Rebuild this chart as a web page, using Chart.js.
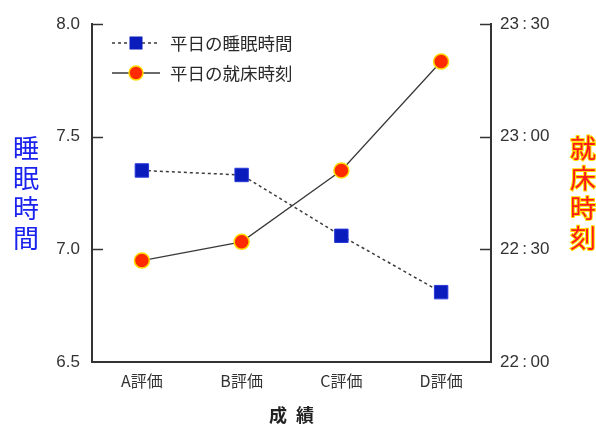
<!DOCTYPE html>
<html>
<head>
<meta charset="utf-8">
<script src="https://cdn.jsdelivr.net/npm/chart.js@4.4.1/dist/chart.umd.min.js"></script>
<style>
  html, body { margin: 0; padding: 0; background: #fff; }
  #wrap { width: 596px; height: 428px; }
</style>
</head>
<body>
<div id="wrap"><canvas id="chart" width="596" height="428"></canvas></div>
<script>
// grades on the x axis
const categories = ['A評価', 'B評価', 'C評価', 'D評価'];
// weekday sleep time (hours), left axis
const sleepHours = [7.35, 7.33, 7.06, 6.81];
// weekday bedtime, right axis
const bedtimes = ['22:27', '22:32', '22:51', '23:20'];

const sleepRange = [6.5, 8.0];
const timeRange = ['22:00', '23:30'];

const leftTitle = '睡眠時間';
const rightTitle = '就床時刻';
const xTitle = '成\u2002績';
const legendLabels = ['平日の睡眠時間', '平日の就床時刻'];

const JP = '"Noto Sans CJK JP", sans-serif';
const NUM = '"Liberation Sans", Arial, sans-serif';

const BLUE = '#0a1cbc';
const RED = '#ff2a00';
const YELLOW = '#ffdc00';
const LINE = '#3a3a3a';

function toMinutes(s) {
    const [h, m] = s.split(':').map(Number);
    return h * 60 + m;
}
function fmtTime(v) {
    const h = Math.floor(v / 60), m = v % 60;
    return h + '\u2009:\u2009' + String(m).padStart(2, '0');
}

// ticks drawn inward + vertical axis titles + legend inside the plot
const decorations = {
    id: 'decorations',
    afterDraw(chart) {
        const ctx = chart.ctx;
        const area = chart.chartArea;
        const yL = chart.scales.y, yR = chart.scales.y1;
        ctx.save();
        ctx.strokeStyle = '#333';
        ctx.lineWidth = 1.5;
        yL.ticks.forEach(t => {
            if (t.value === sleepRange[0]) return;
            const py = Math.round(yL.getPixelForValue(t.value)) + 0.5;
            ctx.beginPath(); ctx.moveTo(area.left, py); ctx.lineTo(area.left + 11, py); ctx.stroke();
        });
        yR.ticks.forEach(t => {
            if (t.value === toMinutes(timeRange[0])) return;
            const py = Math.round(yR.getPixelForValue(t.value)) + 0.5;
            ctx.beginPath(); ctx.moveTo(area.right, py); ctx.lineTo(area.right - 11, py); ctx.stroke();
        });

        // vertical titles
        const midY = (area.top + area.bottom) / 2;
        ctx.font = '26px ' + JP;
        ctx.textAlign = 'center';
        ctx.textBaseline = 'middle';
        [...leftTitle].forEach((ch, i) => {
            ctx.fillStyle = '#1a22ee';
            ctx.fillText(ch, 26, midY + (i - 1.5) * 30);
        });
        [...rightTitle].forEach((ch, i) => {
            const y = midY + (i - 1.5) * 30;
            ctx.strokeStyle = YELLOW;
            ctx.lineWidth = 2;
            ctx.strokeText(ch, 583, y);
            ctx.fillStyle = '#ff1a1a';
            ctx.fillText(ch, 583, y);
        });

        // legend
        const lx = area.left + 20, mx = area.left + 44, tx = area.left + 78;
        const rows = [area.top + 19, area.top + 49];
        ctx.strokeStyle = LINE;
        ctx.lineWidth = 1.5;
        ctx.setLineDash([3, 3]);
        ctx.beginPath(); ctx.moveTo(lx, rows[0]); ctx.lineTo(lx + 48, rows[0]); ctx.stroke();
        ctx.setLineDash([]);
        ctx.beginPath(); ctx.moveTo(lx, rows[1]); ctx.lineTo(lx + 48, rows[1]); ctx.stroke();
        ctx.fillStyle = BLUE;
        ctx.fillRect(mx - 6.5, rows[0] - 6.5, 13, 13);
        ctx.beginPath(); ctx.arc(mx, rows[1], 7, 0, Math.PI * 2);
        ctx.fillStyle = RED; ctx.fill();
        ctx.strokeStyle = YELLOW; ctx.lineWidth = 1.5; ctx.stroke();
        ctx.fillStyle = '#2a2a2a';
        ctx.font = '17.5px ' + JP;
        ctx.textAlign = 'left';
        legendLabels.forEach((s, i) => ctx.fillText(s, tx, rows[i]));
        ctx.restore();
    }
};

new Chart(document.getElementById('chart'), {
    type: 'line',
    data: {
        labels: categories,
        datasets: [
            {
                label: legendLabels[0],
                data: sleepHours,
                yAxisID: 'y',
                borderColor: LINE,
                borderWidth: 1.5,
                borderDash: [3, 3],
                pointStyle: 'rect',
                pointRadius: 9.5,
                pointBackgroundColor: BLUE,
                pointBorderColor: '#2a3ad8',
                pointBorderWidth: 1,
                tension: 0
            },
            {
                label: legendLabels[1],
                data: bedtimes.map(toMinutes),
                yAxisID: 'y1',
                borderColor: LINE,
                borderWidth: 1.3,
                pointStyle: 'circle',
                pointRadius: 7.5,
                pointBackgroundColor: RED,
                pointBorderColor: YELLOW,
                pointBorderWidth: 1.5,
                tension: 0
            }
        ]
    },
    options: {
        responsive: false,
        animation: false,
        layout: { padding: { top: 24, left: 0, right: 0, bottom: 0 } },
        plugins: { legend: { display: false }, tooltip: { enabled: false } },
        scales: {
            x: {
                offset: true,
                grid: { display: false, drawTicks: false },
                border: { display: true, color: '#333', width: 2 },
                ticks: { color: '#333', padding: 9, font: { family: JP, size: 16 } },
                title: { display: true, text: xTitle, color: '#222', padding: { top: 0, bottom: 2 },
                         font: { family: JP, size: 18, weight: 'bold' } },
                afterFit: s => { s.height = 66; }
            },
            y: {
                position: 'left',
                min: sleepRange[0],
                max: sleepRange[1],
                grid: { display: false, drawTicks: false },
                border: { display: true, color: '#333', width: 2 },
                ticks: { stepSize: 0.5, padding: 12, color: '#333', font: { family: NUM, size: 17 },
                         callback: v => v.toFixed(1) },
                afterFit: s => { s.width = 92; }
            },
            y1: {
                position: 'right',
                min: toMinutes(timeRange[0]),
                max: toMinutes(timeRange[1]),
                grid: { display: false, drawTicks: false },
                border: { display: true, color: '#333', width: 2 },
                ticks: { stepSize: 30, padding: 9, color: '#333', font: { family: NUM, size: 17 },
                         callback: v => fmtTime(v) },
                afterFit: s => { s.width = 105; }
            }
        }
    },
    plugins: [decorations]
});
</script>
</body>
</html>
